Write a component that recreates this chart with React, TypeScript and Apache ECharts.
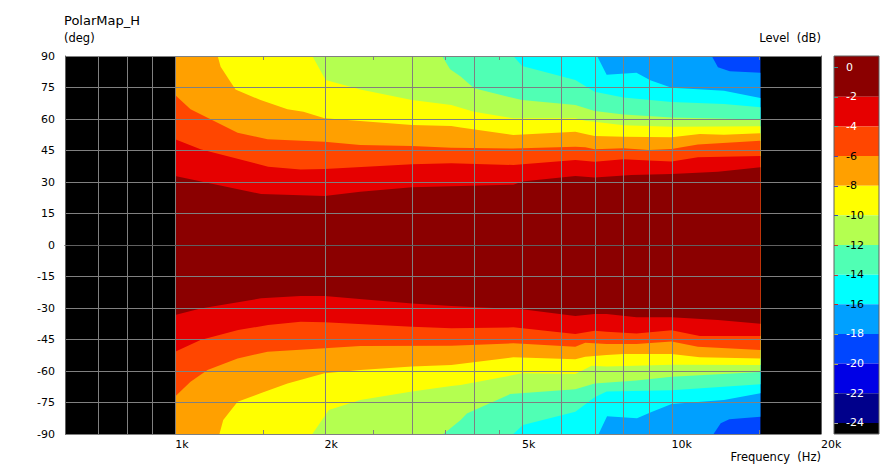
import React, { useEffect, useRef } from 'react';
import * as echarts from 'echarts';

const FONT = 'DejaVu Sans';

// Axis ranges
const FREQ_MIN = 600;
const FREQ_MAX = 20000;
const ANGLE_MIN = -90;
const ANGLE_MAX = 90;
const ANGLE_STEP = 15;

// Frequency axis labels / grid
const X_LABEL_FREQS = [1000, 2000, 5000, 10000, 20000];
const X_LABEL_TEXTS = ['1k', '2k', '5k', '10k', '20k'];
const GRID_FREQS = [700, 800, 900, 1000, 2000, 3000, 4000, 5000, 6000, 7000, 8000, 9000, 10000];
const MINOR_TICK_FREQS = [1500, 2500, 3500, 4500, 15000];

// Measured data extent
const DATA_FREQ_START = 1000;
const DATA_FREQ_END = 15100;

// Contour lines [frequency Hz, angle deg] of each level (upper = positive side, lower = negative side)
const C2_UP = [[1000, 32.9], [1490, 24.3], [2000, 23.3], [2360, 25.4], [3000, 27.5], [4800, 28.7], [5000, 30.2], [6400, 32.9], [7000, 32.2], [8300, 33.3], [10000, 33.8], [12400, 34.9], [15100, 37.0]];
const C2_LO = [[1000, -33.3], [1125, -30.2], [1490, -25.4], [1790, -24.3], [2000, -24.3], [3000, -27.8], [3600, -29.0], [5000, -30.6], [6400, -33.8], [7000, -32.9], [7400, -32.9], [8500, -34.4], [10000, -34.4], [12400, -35.7], [15100, -37.5]];
const C4_UP = [[1000, 50.3], [1125, 45.6], [1540, 37.3], [1790, 36.0], [2000, 36.2], [3000, 38.4], [3600, 38.9], [4800, 38.1], [6400, 40.5], [7000, 39.7], [8000, 40.8], [9000, 40.2], [10000, 39.8], [11300, 41.8], [15100, 42.4]];
const C4_LO = [[1000, -50.8], [1125, -45.2], [1340, -40.5], [1540, -38.1], [1790, -36.5], [2000, -36.8], [3000, -38.9], [3600, -39.7], [4800, -39.2], [6400, -42.4], [7000, -40.8], [7400, -41.3], [8500, -42.1], [10000, -40.6], [11400, -43.3], [15100, -43.3]];
const C6_UP = [[1000, 71.4], [1074, 64.6], [1336, 53.5], [1535, 50.3], [2000, 49.2], [2360, 47.6], [3000, 47.1], [3600, 46.3], [4800, 45.9], [6400, 46.8], [6700, 46.5], [7000, 45.6], [8000, 46.1], [9000, 45.2], [10000, 45.7], [11300, 47.8], [15100, 49.7]];
const C6_LO = [[1000, -72.2], [1074, -65.1], [1162, -59.5], [1336, -54.0], [1535, -50.8], [2000, -49.2], [2360, -48.1], [3600, -48.0], [4800, -46.8], [6400, -48.4], [6700, -46.5], [7400, -47.1], [8500, -47.1], [10000, -46.0], [11300, -48.4], [15100, -50.0]];
const C8_UP = [[1000, 90], [1218, 90], [1235, 84.9], [1323, 74.1], [1486, 69.0], [1684, 64.6], [1813, 63.5], [2000, 60.3], [3000, 57.1], [3600, 56.7], [3760, 56.0], [4800, 52.4], [6400, 53.9], [6700, 52.9], [7000, 51.9], [8000, 51.5], [10000, 51.3], [11400, 52.9], [12750, 52.5], [15100, 53.2]];
const C8_LO = [[1000, -90], [1228, -90], [1250, -83.3], [1336, -74.6], [1486, -70.6], [1684, -65.9], [2000, -61.1], [2360, -59.5], [3000, -57.9], [3600, -57.1], [4800, -53.5], [6400, -54.4], [6700, -53.2], [7400, -52.4], [8000, -51.9], [10000, -51.9], [11400, -53.5], [15100, -54.0]];
const C10_UP = [[1000, 90], [1890, 90], [2010, 78.6], [2360, 74.1], [3000, 69.0], [3600, 66.7], [4000, 63.5], [4800, 60.3], [6400, 60.3], [6700, 59.2], [7000, 58.7], [8000, 57.0], [10000, 56.3], [15100, 56.5]];
const C10_LO = [[1000, -90], [1890, -90], [2040, -78.6], [2360, -73.8], [3000, -69.8], [3600, -67.1], [3760, -66.7], [5000, -61.1], [6400, -61.4], [6900, -57.5], [7400, -57.9], [10000, -57.0], [15100, -57.1]];
const C12_UP = [[1000, 90], [3450, 90], [3580, 83.7], [3760, 80.2], [4000, 74.6], [5000, 69.0], [6400, 66.7], [7000, 63.8], [8000, 62.2], [10000, 60.7], [15100, 59.8]];
const C12_LO = [[1000, -90], [3470, -90], [3760, -83.3], [3870, -80.2], [4730, -71.0], [6400, -68.7], [7000, -66.0], [8500, -64.5], [10000, -62.7], [15100, -60.5]];
const C14_UP = [[1000, 90], [4800, 90], [5000, 85.2], [6400, 78.6], [7000, 73.0], [8000, 70.2], [10000, 68.1], [12750, 67.1], [15100, 65.6]];
const C14_LO = [[1000, -90], [4800, -90], [5020, -85.7], [6400, -79.4], [7000, -72.5], [7400, -69.8], [10000, -69.2], [15100, -66.3]];
const C16_UP = [[1000, 90], [7080, 90], [7400, 81.1], [8500, 82.0], [9060, 78.4], [10000, 74.9], [12750, 73.5], [15100, 70.0]];
const C16_LO = [[1000, -90], [7130, -90], [7414, -81.5], [8520, -82.5], [9060, -79.8], [10000, -75.7], [12750, -73.8], [15100, -70.6]];
const C18_UP = [[1000, 90], [12050, 90], [12400, 84.6], [13100, 82.7], [15100, 82.0]];
const C18_LO = [[1000, -90], [12150, -90], [12560, -84.9], [13070, -83.0], [15100, -81.8]];

const LEVELS = [-18, -16, -14, -12, -10, -8, -6, -4, -2];
const UPPER: Record<number, number[][]> = { [-2]: C2_UP, [-4]: C4_UP, [-6]: C6_UP, [-8]: C8_UP, [-10]: C10_UP, [-12]: C12_UP, [-14]: C14_UP, [-16]: C16_UP, [-18]: C18_UP };
const LOWER: Record<number, number[][]> = { [-2]: C2_LO, [-4]: C4_LO, [-6]: C6_LO, [-8]: C8_LO, [-10]: C10_LO, [-12]: C12_LO, [-14]: C14_LO, [-16]: C16_LO, [-18]: C18_LO };

// Colour scale (dB)
const CB_MAX = 0.75;
const CB_MIN = -24.75;
const CB_LABELS = [0, -2, -4, -6, -8, -10, -12, -14, -16, -18, -20, -22, -24];
const BAND_COLORS = ['#8B0000', '#E60000', '#FF4600', '#FFA000', '#FFFF00', '#B4FF50', '#50FFB4', '#00FFFF', '#00A0FF', '#0046FF', '#0000E6', '#00008B', '#000000'];
const CB_LABEL_COLORS = ['#fff', '#fff', '#fff', '#000', '#000', '#000', '#000', '#000', '#000', '#fff', '#fff', '#fff', '#fff'];
const CB_TICK_COLORS = ['#3a9a9a', '#3aa08a', '#40c0a0', '#4040c0', '#4040d0', '#3050c0', '#d04020', '#d03030', '#d02020', '#c0c040', '#b0b040', '#909090', '#a0a0a0'];

const lf = (f: number) => Math.log10(f);
const GRID_COLOR = '#808080';
const FRAME_COLOR = '#606060';

export default function App() {
  const ref = useRef<HTMLDivElement>(null);

  useEffect(() => {
    document.body.style.margin = '0';
    if (!ref.current) return;
    const chart = echarts.init(ref.current, undefined, { renderer: 'svg' });

    const heatData = [null, ...LEVELS].map((_, i) => [lf(DATA_FREQ_START), i]);

    const option: any = {
      animation: false,
      backgroundColor: '#ffffff',
      textStyle: { fontFamily: FONT },
      grid: [
        { left: 65, top: 56, width: 756, height: 378, show: true, backgroundColor: '#000000', borderWidth: 0 },
        { left: 834, top: 56, width: 45, height: 378, show: false },
      ],
      xAxis: [
        {
          gridIndex: 0, type: 'value', position: 'bottom', min: lf(FREQ_MIN), max: lf(FREQ_MAX), z: 10,
          axisLine: { show: true, lineStyle: { color: FRAME_COLOR, width: 1 } },
          axisTick: { show: false },
          splitLine: { show: false },
          axisLabel: {
            customValues: X_LABEL_FREQS.map(lf),
            formatter: (v: number) => {
              const i = X_LABEL_FREQS.findIndex((f) => Math.abs(lf(f) - Number(v)) < 1e-6);
              return i >= 0 ? X_LABEL_TEXTS[i] : '';
            },
            align: 'left', margin: 5, fontSize: 11, color: '#000', fontFamily: FONT,
          },
        },
        {
          gridIndex: 0, type: 'value', position: 'top', min: lf(FREQ_MIN), max: lf(FREQ_MAX), z: 10,
          axisLine: { show: true, lineStyle: { color: FRAME_COLOR, width: 1 } },
          axisTick: { show: false }, axisLabel: { show: false }, splitLine: { show: false },
        },
        { gridIndex: 1, type: 'value', min: 0, max: 1, show: false },
      ],
      yAxis: [
        {
          gridIndex: 0, type: 'value', position: 'left', min: ANGLE_MIN, max: ANGLE_MAX, interval: ANGLE_STEP, z: 10,
          axisLine: { show: true, lineStyle: { color: FRAME_COLOR, width: 1 } },
          axisTick: { show: false },
          splitLine: { show: true, lineStyle: { color: GRID_COLOR, width: 1 } },
          axisLabel: { fontSize: 11, color: '#000', margin: 10, fontFamily: FONT },
        },
        {
          gridIndex: 0, type: 'value', position: 'right', min: ANGLE_MIN, max: ANGLE_MAX, z: 10,
          axisLine: { show: true, lineStyle: { color: FRAME_COLOR, width: 1 } },
          axisTick: { show: false }, axisLabel: { show: false }, splitLine: { show: false },
        },
        {
          gridIndex: 1, type: 'value', position: 'left', min: CB_MIN, max: CB_MAX, z: 10,
          axisLine: { show: false }, axisTick: { show: false }, splitLine: { show: false },
          axisLabel: {
            inside: true, margin: 12, fontSize: 11, fontFamily: FONT,
            customValues: CB_LABELS,
            formatter: (v: number) => String(Number(v)),
            color: (v: any) => {
              const i = CB_LABELS.indexOf(Number(v));
              return i >= 0 ? CB_LABEL_COLORS[i] : '#000';
            },
          },
        },
      ],
      series: [
        {
          type: 'custom', name: 'polar map', xAxisIndex: 0, yAxisIndex: 0, z: 2, clip: true,
          data: heatData,
          renderItem: (params: any, api: any) => {
            const i = params.dataIndex;
            let pts: number[][];
            let color: string;
            if (i === 0) {
              pts = [
                [lf(DATA_FREQ_START), ANGLE_MAX], [lf(DATA_FREQ_END), ANGLE_MAX],
                [lf(DATA_FREQ_END), ANGLE_MIN], [lf(DATA_FREQ_START), ANGLE_MIN],
              ];
              color = BAND_COLORS[-LEVELS[0] / 2];
            } else {
              const L = LEVELS[i - 1];
              const up = UPPER[L].map(([f, a]) => [lf(f), a]);
              const lo = LOWER[L].slice().reverse().map(([f, a]) => [lf(f), a]);
              pts = [...up, ...lo];
              color = BAND_COLORS[-L / 2 - 1];
            }
            return {
              type: 'polygon',
              shape: { points: pts.map((p) => api.coord(p)) },
              style: { fill: color },
            };
          },
        },
        {
          type: 'custom', name: 'freq grid', xAxisIndex: 0, yAxisIndex: 0, z: 3, clip: true,
          data: GRID_FREQS.map((f) => [lf(f), 0]),
          renderItem: (params: any, api: any) => {
            const x = api.value(0);
            const p1 = api.coord([x, ANGLE_MAX]);
            const p2 = api.coord([x, ANGLE_MIN]);
            const px = Math.round(p1[0]) + 0.5;
            return {
              type: 'line',
              shape: { x1: px, y1: p1[1], x2: px, y2: p2[1] },
              style: { stroke: GRID_COLOR, lineWidth: 1 },
            };
          },
        },
        {
          type: 'custom', name: 'minor ticks', xAxisIndex: 0, yAxisIndex: 0, z: 3, clip: true,
          data: MINOR_TICK_FREQS.map((f) => [lf(f), 0]),
          renderItem: (params: any, api: any) => {
            const x = api.value(0);
            const pt = api.coord([x, ANGLE_MAX]);
            const pb = api.coord([x, ANGLE_MIN]);
            const px = Math.round(pt[0]) + 0.5;
            return {
              type: 'group',
              children: [
                { type: 'line', shape: { x1: px, y1: pt[1], x2: px, y2: pt[1] + 4 }, style: { stroke: GRID_COLOR, lineWidth: 1 } },
                { type: 'line', shape: { x1: px, y1: pb[1], x2: px, y2: pb[1] - 4 }, style: { stroke: GRID_COLOR, lineWidth: 1 } },
              ],
            };
          },
        },
        {
          type: 'custom', name: 'colour bar', xAxisIndex: 2, yAxisIndex: 2, z: 2,
          data: BAND_COLORS.map((c, i) => [0, i]),
          renderItem: (params: any, api: any) => {
            const i = params.dataIndex;
            const top = i === 0 ? CB_MAX : CB_LABELS[i];
            const bottom = i + 1 < CB_LABELS.length ? CB_LABELS[i + 1] : CB_MIN;
            const p1 = api.coord([0, top]);
            const p2 = api.coord([1, bottom]);
            return {
              type: 'rect',
              shape: { x: p1[0], y: p1[1], width: p2[0] - p1[0], height: p2[1] - p1[1] },
              style: { fill: BAND_COLORS[i] },
            };
          },
        },
        {
          type: 'custom', name: 'colour bar ticks', xAxisIndex: 2, yAxisIndex: 2, z: 4,
          data: CB_LABELS.map((v) => [0, v]),
          renderItem: (params: any, api: any) => {
            const p = api.coord([0, api.value(1)]);
            const py = Math.round(p[1]) + 0.5;
            return {
              type: 'line',
              shape: { x1: p[0], y1: py, x2: p[0] + 4, y2: py },
              style: { stroke: CB_TICK_COLORS[params.dataIndex], lineWidth: 1 },
            };
          },
        },
        {
          type: 'custom', name: 'colour bar frame', xAxisIndex: 2, yAxisIndex: 2, z: 5,
          data: [[0, 0]],
          renderItem: (params: any, api: any) => {
            const p1 = api.coord([0, CB_MAX]);
            const p2 = api.coord([1, CB_MIN]);
            return {
              type: 'rect',
              shape: { x: p1[0], y: p1[1], width: p2[0] - p1[0], height: p2[1] - p1[1] },
              style: { fill: 'none', stroke: FRAME_COLOR, lineWidth: 1 },
            };
          },
        },
      ],
      graphic: [
        { type: 'text', left: 64, top: 14, style: { text: 'PolarMap_H', fontSize: 13, fontFamily: FONT, fill: '#000' } },
        { type: 'text', left: 64, top: 32, style: { text: '(deg)', fontSize: 11.5, fontFamily: FONT, fill: '#000' } },
        { type: 'text', right: 71, top: 32, style: { text: 'Level  (dB)', fontSize: 11.5, fontFamily: FONT, fill: '#000' } },
        { type: 'text', right: 71, top: 451, style: { text: 'Frequency  (Hz)', fontSize: 11.5, fontFamily: FONT, fill: '#000' } },
      ],
    };

    chart.setOption(option);
    return () => chart.dispose();
  }, []);

  return (
    <div style={{ position: 'absolute', left: 0, top: 0, width: 892, height: 469, background: '#fff' }}>
      <div ref={ref} style={{ width: 892, height: 469 }} />
    </div>
  );
}
